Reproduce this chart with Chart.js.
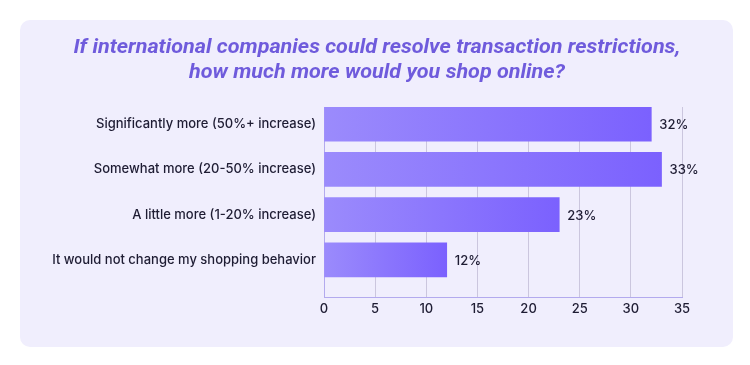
<!DOCTYPE html>
<html>
<head>
<meta charset="utf-8">
<script src="https://cdn.jsdelivr.net/npm/chart.js@4.4.1/dist/chart.umd.min.js"></script>
<style>
  html, body { margin: 0; padding: 0; background: #ffffff; }
  #wrap { position: relative; width: 750px; height: 365px; }
  #card { position: absolute; left: 20px; top: 20px; width: 713px; height: 327px; background: #f0eefd; border-radius: 10px; }
  #chart { position: absolute; left: 0; top: 0; }
</style>
</head>
<body>
<div id="wrap">
  <div id="card"></div>
  <canvas id="chart" width="750" height="365"></canvas>
</div>
<script>
// answers, top to bottom
const categories = [
    'Significantly more (50%+ increase)',
    'Somewhat more (20-50% increase)',
    'A little more (1-20% increase)',
    'It would not change my shopping behavior'
];
const shares = [32, 33, 23, 12];
const xTicks = [0, 5, 10, 15, 20, 25, 30, 35];
const titleLines = [
    'If international companies could resolve transaction restrictions,',
    'how much more would you shop online?'
];

const textColor = '#1e1c33';
const labelFont = { family: 'Inter, "Noto Sans", sans-serif', size: 13, weight: '500' };

// bar fill fades from light lavender to violet along each bar
function barFill(ctx) {
    const chart = ctx.chart;
    if (!chart.chartArea || !ctx.raw) return '#8a73fd';
    const xs = chart.scales.x;
    const x0 = xs.getPixelForValue(0);
    const x1 = xs.getPixelForValue(ctx.raw.x);
    const g = chart.ctx.createLinearGradient(x0, 0, x1, 0);
    g.addColorStop(0, '#9b8bfc');
    g.addColorStop(1, '#7b61fe');
    return g;
}

// title drawn by hand so it can sit centred on the card, squeezed like the original
const cardTitle = {
    id: 'cardTitle',
    afterDraw(chart) {
        const ctx = chart.ctx;
        const widest = 607;
        ctx.save();
        ctx.font = 'italic bold 20px Roboto, "DejaVu Sans", sans-serif';
        ctx.fillStyle = '#6f5bdc';
        ctx.textAlign = 'center';
        ctx.textBaseline = 'alphabetic';
        const sx = widest / ctx.measureText(titleLines[0]).width;
        ctx.translate(377, 0);
        ctx.scale(sx, 1);
        ctx.fillText(titleLines[0], 0, 53);
        ctx.fillText(titleLines[1], 0, 78);
        ctx.restore();
    }
};

const valueLabels = {
    id: 'valueLabels',
    afterDatasetsDraw(chart) {
        const ctx = chart.ctx;
        const meta = chart.getDatasetMeta(0);
        ctx.save();
        ctx.font = labelFont.weight + ' ' + labelFont.size + 'px ' + labelFont.family;
        ctx.fillStyle = textColor;
        ctx.textAlign = 'left';
        ctx.textBaseline = 'middle';
        meta.data.forEach((bar, i) => {
            ctx.fillText(shares[i] + '%', bar.x + 8, bar.y + 1);
        });
        ctx.restore();
    }
};

const points = shares.map((v, i) => ({ x: v, y: i }));

new Chart(document.getElementById('chart'), {
    type: 'bar',
    data: {
        datasets: [{
            data: points,
            backgroundColor: barFill,
            borderWidth: 0,
            barThickness: 34
        }]
    },
    options: {
        indexAxis: 'y',
        responsive: false,
        animation: false,
        layout: { padding: { left: 0, right: 68, top: 107, bottom: 0 } },
        plugins: {
            legend: { display: false },
            tooltip: { enabled: false },
            title: { display: false }
        },
        scales: {
            x: {
                type: 'linear',
                min: 0,
                max: 35,
                afterBuildTicks: s => { s.ticks = xTicks.map(v => ({ value: v })); },
                afterFit: s => { s.height = 68; },
                grid: { color: '#cbc6de', drawTicks: false },
                border: { display: true, color: '#b3aaee', width: 1 },
                ticks: { color: textColor, font: labelFont, padding: 4 }
            },
            y: {
                type: 'linear',
                reverse: true,
                offset: false,
                min: -0.38,
                max: 3.82,
                afterBuildTicks: s => { s.ticks = categories.map((c, i) => ({ value: i })); },
                afterFit: s => { s.width = 324; },
                grid: { display: false, drawTicks: false },
                border: { display: true, color: '#b3aaee', width: 1 },
                ticks: {
                    color: textColor,
                    font: labelFont,
                    padding: 8,
                    callback: v => categories[v] || ''
                }
            }
        }
    },
    plugins: [valueLabels, cardTitle]
});
</script>
</body>
</html>
